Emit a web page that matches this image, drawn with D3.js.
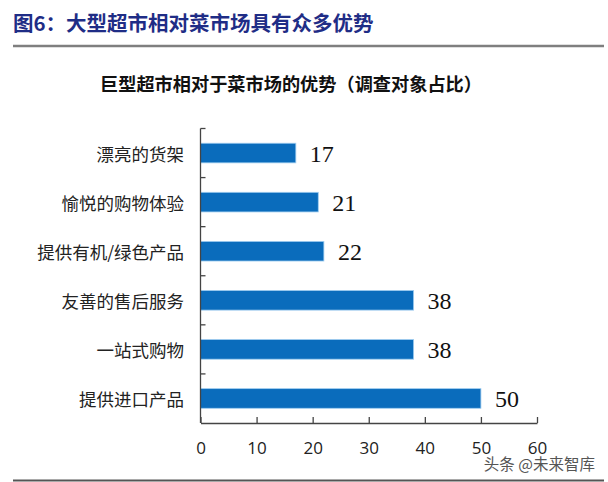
<!DOCTYPE html>
<html><head><meta charset="utf-8">
<script src="https://cdn.jsdelivr.net/npm/d3@7"></script>
<style>
html,body{margin:0;padding:0;background:#fff;}
svg{display:block;}
</style></head>
<body>
<script>
const categories = ["漂亮的货架","愉悦的购物体验","提供有机/绿色产品","友善的售后服务","一站式购物","提供进口产品"];
const values = [17,21,22,38,38,50];
const xTicks = [0,10,20,30,40,50,60];
const titleText = "图6：大型超市相对菜市场具有众多优势";
const subtitleText = "巨型超市相对于菜市场的优势（调查对象占比）";
const watermark = "头条 @未来智库";

const W = 608, H = 482;
const svg = d3.select("body").append("svg").attr("width", W).attr("height", H);

const cjk = "'Noto Sans CJK SC','Noto Sans',sans-serif";

// Title
svg.append("text").attr("x", 13).attr("y", 31)
  .attr("font-family", cjk).attr("font-weight", "bold").attr("font-size", 20.5)
  .attr("fill", "#1f2d86").text(titleText);
svg.append("line").attr("x1", 13).attr("x2", 604).attr("y1", 46).attr("y2", 46)
  .attr("stroke", "#7f7f7f").attr("stroke-width", 2.5);

// Subtitle
svg.append("text").attr("x", 291).attr("y", 83).attr("text-anchor", "middle")
  .attr("dominant-baseline", "central")
  .attr("font-family", cjk).attr("font-weight", "bold").attr("font-size", 18.2)
  .attr("fill", "#111").text(subtitleText);

const x = d3.scaleLinear().domain([0, 60]).range([200.5, 537]);
const y = d3.scaleBand().domain(categories).range([128.5, 423]).paddingInner(0.6).paddingOuter(0.3);

// Bars
svg.append("g").selectAll("rect").data(values).join("rect")
  .attr("x", x(0)).attr("y", (d, i) => y(categories[i]))
  .attr("width", d => x(d) - x(0)).attr("height", y.bandwidth())
  .attr("fill", "#0a6cbc").attr("stroke", "#9fcdf0").attr("stroke-width", 0.8);

// Value labels
svg.append("g").selectAll("text").data(values).join("text")
  .attr("x", d => x(d) + 14).attr("y", (d, i) => y(categories[i]) + y.bandwidth() / 2 + 1)
  .attr("dominant-baseline", "central")
  .attr("font-family", "'Liberation Serif','Times New Roman',serif").attr("font-size", 24)
  .attr("fill", "#111").text(d => d);

// Y axis: domain line + ticks at band boundaries pointing right
const yAxisG = svg.append("g").attr("stroke", "#444").attr("stroke-width", 1.3);
yAxisG.append("line").attr("x1", x(0)).attr("x2", x(0)).attr("y1", 128.5).attr("y2", 423);
const step = y.step();
const boundaries = d3.range(categories.length).map(i => 128.5 + i * (423 - 128.5) / categories.length);
boundaries.forEach(b => {
  yAxisG.append("line").attr("x1", x(0)).attr("x2", x(0) + 5).attr("y1", b).attr("y2", b);
});

// Category labels
svg.append("g").selectAll("text").data(categories).join("text")
  .attr("x", 184).attr("y", d => y(d) + y.bandwidth() / 2)
  .attr("text-anchor", "end").attr("dominant-baseline", "central")
  .attr("font-family", cjk).attr("font-size", 17.5)
  .attr("fill", "#222").text(d => d);

// X axis
const xAxis = d3.axisBottom(x).tickValues(xTicks).tickSizeInner(-6).tickSizeOuter(0).tickPadding(19);
const xg = svg.append("g").attr("transform", "translate(0,423)").call(xAxis);
xg.select(".domain").attr("stroke", "#444").attr("stroke-width", 1.3);
xg.selectAll(".tick line").attr("stroke", "#444").attr("stroke-width", 1.3);
xg.selectAll(".tick text").attr("font-family", "'Open Sans','Noto Sans',sans-serif")
  .attr("font-size", 17).attr("fill", "#222");

// Watermark
svg.append("text").attr("x", 595).attr("y", 463).attr("text-anchor", "end")
  .attr("dominant-baseline", "central")
  .attr("font-family", cjk).attr("font-size", 15.5)
  .attr("fill", "#555").attr("stroke", "#fff").attr("stroke-width", 2.5)
  .attr("paint-order", "stroke").text(watermark);

// Bottom line
svg.append("line").attr("x1", 13).attr("x2", 604).attr("y1", 480.5).attr("y2", 480.5)
  .attr("stroke", "#555").attr("stroke-width", 2);
</script>
</body></html>
